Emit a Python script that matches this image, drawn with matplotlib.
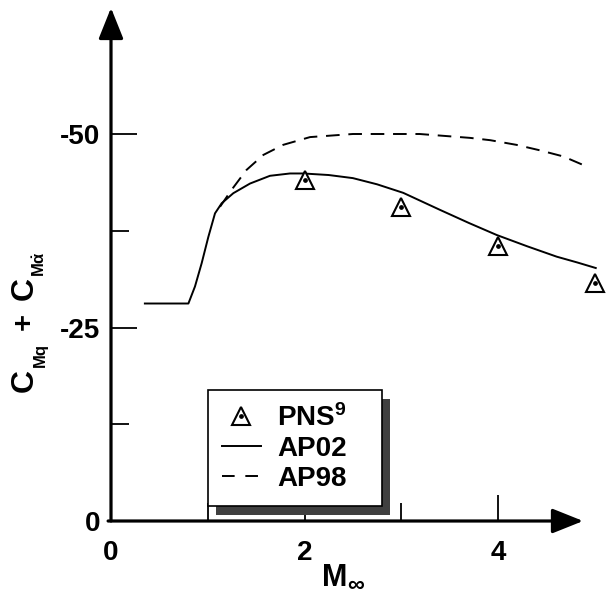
import matplotlib

matplotlib.use("Agg")
import matplotlib.pyplot as plt
from matplotlib.lines import Line2D
from matplotlib.patches import Rectangle
from matplotlib.transforms import IdentityTransform

plt.rcParams.update({
    "font.family": "Liberation Sans",
    "font.weight": "bold",
    "mathtext.fontset": "custom",
    "mathtext.rm": "Liberation Sans:bold",
    "mathtext.it": "Liberation Sans:bold",
    "mathtext.bf": "Liberation Sans:bold",
})

# AP02 (solid)
ap02_mach = [0.34, 0.80, 0.868, 0.937, 1.006, 1.075, 1.144, 1.264, 1.437, 1.643,
             1.85, 1.988, 2.25, 2.5, 2.75, 3.02, 3.40, 3.70, 3.987, 4.30, 4.607, 4.82, 5.02]
ap02_cm = [-28.1, -28.1, -30.3, -33.3, -36.7, -39.75, -41.05, -42.35, -43.6, -44.6,
           -44.9, -44.9, -44.7, -44.3, -43.5, -42.4, -40.2, -38.5, -36.95, -35.5, -34.15, -33.4, -32.65]

# AP98 (dashed) - follows AP02 below M~1.13
ap98_mach = [1.127, 1.247, 1.40, 1.575, 1.78, 2.057, 2.5, 3.19, 3.71, 3.92, 4.19,
             4.43, 4.675, 4.917]
ap98_cm = [-40.6, -42.8, -45.35, -47.3, -48.6, -49.6, -50.0, -50.0, -49.5, -49.2, -48.6,
           -47.9, -47.1, -45.8]

# PNS (triangles)
pns_mach = [2.0, 3.0, 4.0, 5.0]
pns_cm = [-44.1, -40.6, -35.5, -30.8]

W, H = 608, 597
fig = plt.figure(figsize=(W / 100, H / 100), dpi=100)

# pixel layout: x=0 at px 111, 96.75 px/unit; y=0 at px 521, 7.74 px/unit
x0_px, xs = 111, 96.75
y0_px, ys = 521, 7.74
xmax = 5.1
ytop = -(y0_px - 4) / ys
ax = fig.add_axes([x0_px / W, (H - y0_px) / H, xmax * xs / W, (y0_px - 4) / H])
ax.set_xlim(0, xmax)
ax.set_ylim(0, ytop)
ax.patch.set_visible(False)
for s in ax.spines.values():
    s.set_visible(False)

ax.plot(ap02_mach, ap02_cm, color="black", lw=1.4, solid_capstyle="butt")
ax.plot(ap98_mach, ap98_cm, color="black", lw=1.4, ls=(0, (7, 4.5)))
ax.plot(pns_mach, pns_cm, ls="none", marker="^", ms=13, mfc="white", mec="black",
        mew=1.5, clip_on=False, zorder=4)
ax.plot(pns_mach, pns_cm, ls="none", marker="o", ms=2.4, color="black",
        clip_on=False, zorder=5)

# axes drawn as arrows
arrow_kw = dict(arrowstyle="-|>,head_length=0.95,head_width=0.38", color="black",
                lw=2.3, shrinkA=0, shrinkB=0, mutation_scale=20)
ax.annotate("", xy=(0, -66.3), xytext=(0, 0), arrowprops=arrow_kw,
            annotation_clip=False)
ax.annotate("", xy=(4.88, 0), xytext=(-0.03, 0), arrowprops=arrow_kw,
            annotation_clip=False)

# ticks (inward)
ax.set_xticks([0, 2, 4])
ax.set_xticks([1, 3], minor=True)
ax.set_yticks([0, -25, -50])
ax.set_yticks([-12.5, -37.5], minor=True)
ax.set_xticklabels(["0", "2", "4"])
ax.set_yticklabels(["0", "-25", "-50"])
ax.tick_params(axis="both", which="major", direction="in", length=19, width=1.3,
               labelsize=20)
ax.tick_params(axis="both", which="minor", direction="in", length=13, width=1.3)
ax.tick_params(axis="x", which="major", pad=14)
ax.tick_params(axis="y", which="major", pad=8)

# y label built from pieces (big C, small bold subscripts)
def ftext(px, py, s, size):
    fig.text(px / W, 1 - py / H, s, rotation=90, ha="center", va="center",
             fontsize=size, fontweight="bold")

ftext(25, 381, "C", 23)
ftext(40, 355, "Mq", 12)
ftext(24, 322, "+", 21)
ftext(25, 288, "C", 23)
ftext(40, 264, r"M$\dot{\alpha}$", 12)

fig.text(322 / W, 1 - 578 / H, "M", ha="left", va="center", fontsize=22,
         fontweight="bold")
fig.text(347 / W, 1 - 585 / H, "\u221e", ha="left", va="center", fontsize=17,
         fontweight="bold")

# legend
h_pns = (Line2D([], [], ls="none", marker="^", ms=13, mfc="white", mec="black", mew=1.5),
         Line2D([], [], ls="none", marker="o", ms=2.4, color="black"))
h_ap02 = Line2D([], [], color="black", lw=1.4)
h_ap98 = Line2D([], [], color="black", lw=1.4, ls=(0, (6.5, 5.5)))
leg = ax.legend([h_pns, h_ap02, h_ap98], [r"PNS$^{\mathbf{9}}$", "AP02", "AP98"],
                loc="upper left", mode="expand",
                bbox_to_anchor=(208 / W, 1 - 503 / H, 174 / W, 113 / H),
                bbox_transform=fig.transFigure, fontsize=20, frameon=True,
                fancybox=False, edgecolor="black", framealpha=1,
                handlelength=1.4, handletextpad=0.6, labelspacing=0.15,
                borderpad=0.5, borderaxespad=0)
leg.get_frame().set_linewidth(1.2)
leg.set_zorder(10)

fig.canvas.draw()
bb = leg.get_window_extent()
shadow = Rectangle((bb.x0 + 8, bb.y0 - 9), bb.width, bb.height,
                   transform=IdentityTransform(), facecolor="#404040",
                   edgecolor="none", zorder=9, clip_on=False)
ax.add_patch(shadow)

fig.savefig("out.png", dpi=100)
